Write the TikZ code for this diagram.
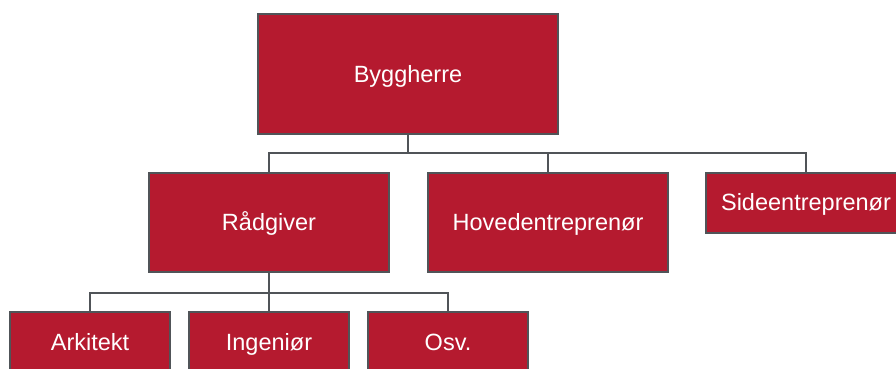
\documentclass[tikz,border=0pt]{standalone}
\usepackage{fontspec}
\setmainfont{Liberation Sans}
\usetikzlibrary{positioning}
\definecolor{boxred}{HTML}{B51A2F}
\definecolor{linegrey}{HTML}{505458}
\tikzset{
  orgbox/.style={draw=linegrey, line width=2pt, fill=boxred, text=white, inner sep=0pt,
    text height=16.8pt, text depth=0pt, font=\fontsize{23.5}{26}\selectfont},
  wire/.style={draw=linegrey, line width=2pt}
}

\begin{document}
\begin{tikzpicture}[x=1pt, y=-1pt]
			%%%%% START %%%%%
			\useasboundingbox (0, 0) rectangle (896, 368);
			\clip (0, 0) rectangle (896, 368);
			
			\node[orgbox, minimum width=300pt, minimum height=120pt] (bygg) at (408, 74) {Byggherre};
			
			\node[orgbox, minimum width=240pt, minimum height=99pt] (raad) at (269, 222.5) {Rådgiver};
			\node[orgbox, minimum width=240pt, minimum height=99pt] (hoved) at (548, 222.5) {Hovedentreprenør};
			\node[orgbox, minimum width=200pt, minimum height=60pt] (side) at (806, 202.5) {Sideentreprenør};
			
			\node[orgbox, minimum width=160pt, minimum height=60pt] (ark) at (90, 342) {Arkitekt};
			\node[orgbox, minimum width=160pt, minimum height=60pt] (ing) at (269, 342) {Ingeniør};
			\node[orgbox, minimum width=160pt, minimum height=60pt] (osv) at (448, 342) {Osv.};
			
			\coordinate (bus1) at (0, 153);
			\coordinate (bus2) at (0, 293);
			
			\draw[wire] (bygg.south) -- (bygg.south |- bus1);
			\draw[wire] (raad.north) |- (side.north |- bus1) -- (side.north);
			\draw[wire] (hoved.north) -- (hoved.north |- bus1);
			
			\draw[wire] (raad.south) -- (ing.north);
			\draw[wire] (ark.north) |- (osv.north |- bus2) -- (osv.north);
			
			%%%%% END %%%%%
		\end{tikzpicture}
\end{document}
